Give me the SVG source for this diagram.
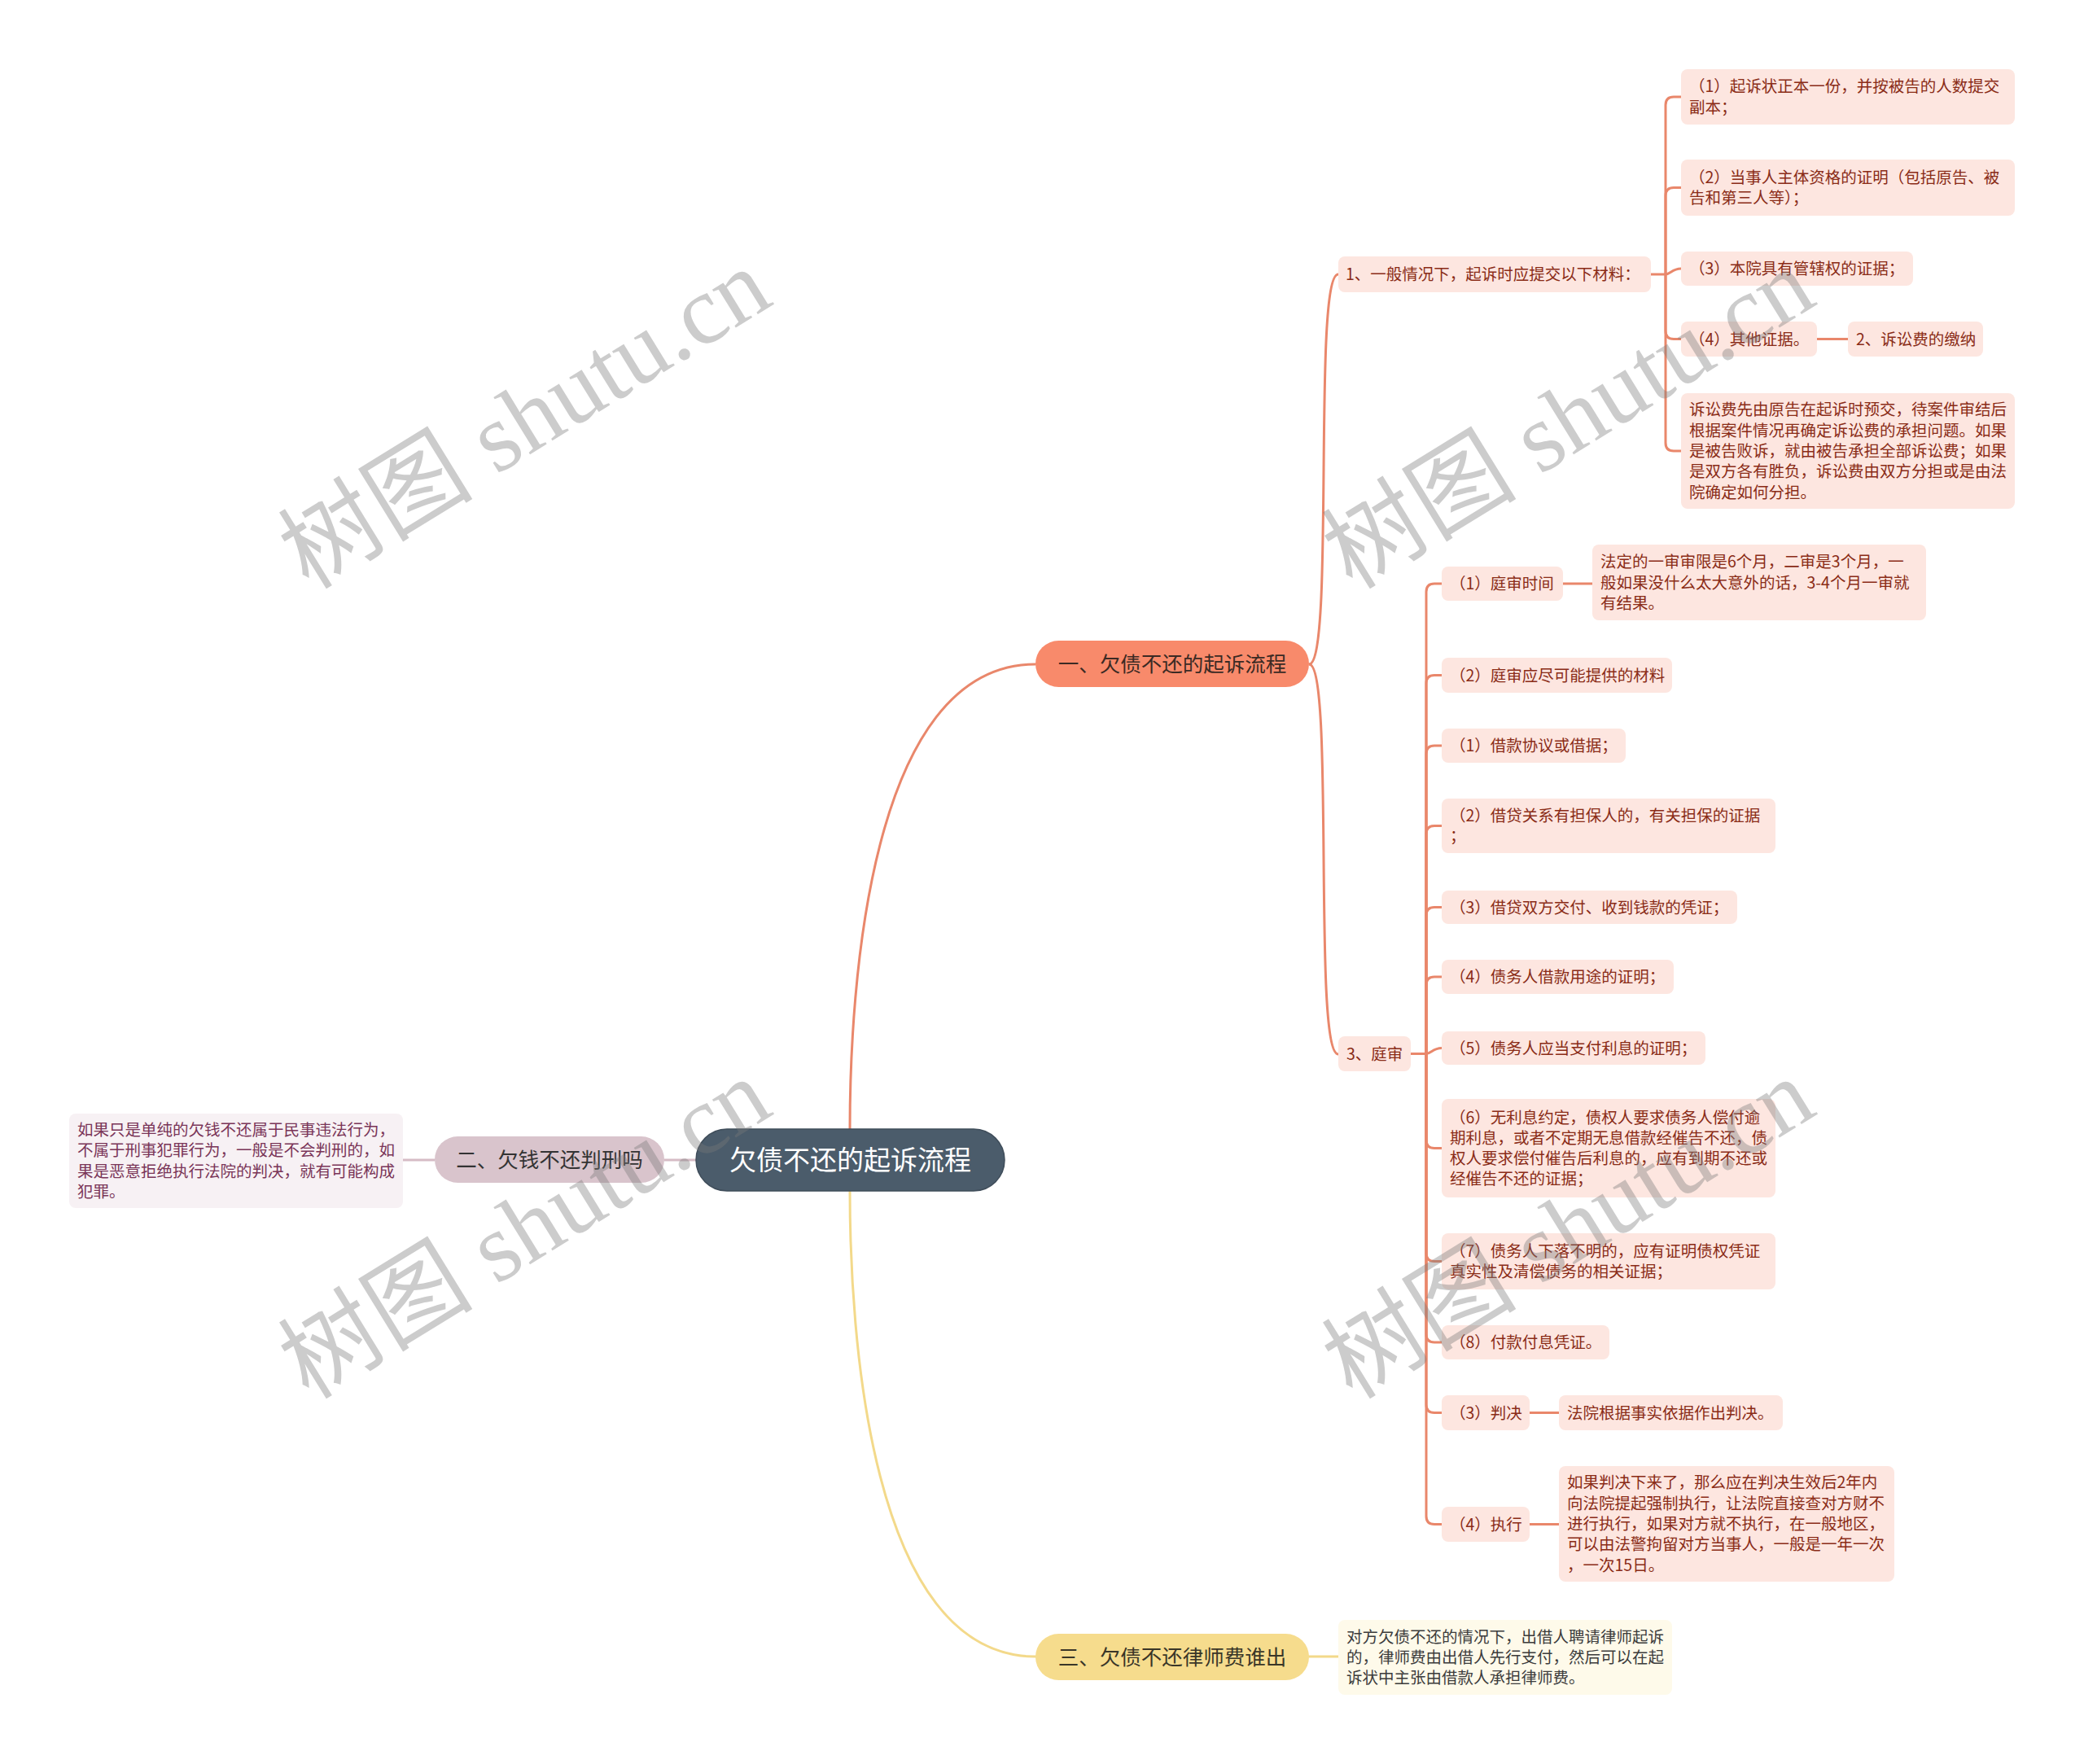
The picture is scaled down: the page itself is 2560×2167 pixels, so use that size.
<svg xmlns="http://www.w3.org/2000/svg" width="2560" height="2167" viewBox="0 0 2560 2167">
<style>
.t{font-family:"Noto Sans CJK SC","Liberation Sans",sans-serif;}
.s{font-size:19.5px;fill:#8a2c17;}
.n{fill:#fde6e0;}
.c{fill:none;stroke:#e9876b;stroke-width:3;}
.l1{font-size:25.5px;text-anchor:middle;}
.wm{font-family:"Liberation Serif","Noto Sans CJK SC",serif;font-size:120px;fill:#7a7a7a;opacity:0.38;text-anchor:middle;}
</style>
<rect width="2560" height="2167" fill="#ffffff"/>
<g id="connectors">
<path d="M1044,1387 C1044,1216 1067,816 1272,816" class="c"/>
<path d="M1044,1463 C1044,1634 1067,2035 1272,2035" fill="none" stroke="#f3d98a" stroke-width="3"/>
<path d="M855,1425 H816 M534,1425 H495" fill="none" stroke="#d6bcc5" stroke-width="3"/>
<path d="M1272,2035 H1272 M1608,2035 H1644" fill="none" stroke="#f3d98a" stroke-width="3"/>
<path d="M1608,816 C1640,816 1612,337 1644,337" class="c"/>
<path d="M1608,816 C1640,816 1612,1295 1644,1295" class="c"/>
<path d="M2028,337 H2046" class="c"/>
<path d="M2046,337 V129 Q2046,119 2056,119 H2065" class="c"/>
<path d="M2046,337 V240.5 Q2046,230.5 2056,230.5 H2065" class="c"/>
<path d="M2046,337 C2052,337 2054,330 2065,330" class="c"/>
<path d="M2046,337 V406.5 Q2046,416.5 2056,416.5 H2065" class="c"/>
<path d="M2046,337 V544 Q2046,554 2056,554 H2065" class="c"/>
<path d="M2232,416.5 H2270" class="c"/>
<path d="M1733,1294.5 H1752" class="c"/>
<path d="M1752,1294.5 V727 Q1752,717 1762,717 H1771" class="c"/>
<path d="M1752,1294.5 V839.5 Q1752,829.5 1762,829.5 H1771" class="c"/>
<path d="M1752,1294.5 V926 Q1752,916 1762,916 H1771" class="c"/>
<path d="M1752,1294.5 V1024.5 Q1752,1014.5 1762,1014.5 H1771" class="c"/>
<path d="M1752,1294.5 V1124.5 Q1752,1114.5 1762,1114.5 H1771" class="c"/>
<path d="M1752,1294.5 V1210 Q1752,1200 1762,1200 H1771" class="c"/>
<path d="M1752,1294.5 C1758,1294.5 1760,1287.5 1771,1287.5" class="c"/>
<path d="M1752,1294.5 V1400.5 Q1752,1410.5 1762,1410.5 H1771" class="c"/>
<path d="M1752,1294.5 V1539.5 Q1752,1549.5 1762,1549.5 H1771" class="c"/>
<path d="M1752,1294.5 V1639 Q1752,1649 1762,1649 H1771" class="c"/>
<path d="M1752,1294.5 V1725.5 Q1752,1735.5 1762,1735.5 H1771" class="c"/>
<path d="M1752,1294.5 V1862.5 Q1752,1872.5 1762,1872.5 H1771" class="c"/>
<path d="M1920,717 H1956 M1879,1735.5 H1915 M1879,1872.5 H1915" class="c"/>
</g>
<g id="root">
<rect x="855" y="1387" width="379" height="76" rx="38" fill="#4b5c6b" stroke="#3f4d5a" stroke-width="1.5"/>
<text class="t" x="1044.5" y="1437" font-size="33" fill="#ffffff" text-anchor="middle">欠债不还的起诉流程</text>
</g>
<g id="b1">
<rect x="1272" y="787" width="336" height="57" rx="28.5" fill="#f88a6b"/>
<text class="t l1" x="1440" y="825" fill="#3b2a24">一、欠债不还的起诉流程</text>
</g>
<g id="b2">
<rect x="534" y="1396" width="282" height="57" rx="28.5" fill="#d9c4cc"/>
<text class="t l1" x="675" y="1434" fill="#333333">二、欠钱不还判刑吗</text>
</g>
<g id="b3">
<rect x="1272" y="2007" width="336" height="57" rx="28.5" fill="#f6dc8d"/>
<text class="t l1" x="1440" y="2045" fill="#3a3628">三、欠债不还律师费谁出</text>
</g>
<g id="leaf-b2">
<rect x="85" y="1368" width="410" height="116" rx="8" fill="#f7f1f4"/>
<text class="t" font-size="19.5" fill="#7a3558"><tspan x="95" y="1395">如果只是单纯的欠钱不还属于民事违法行为，</tspan><tspan x="95" y="1420.3">不属于刑事犯罪行为，一般是不会判刑的，如</tspan><tspan x="95" y="1445.6">果是恶意拒绝执行法院的判决，就有可能构成</tspan><tspan x="95" y="1470.9">犯罪。</tspan></text>
</g>
<g id="leaf-b3">
<rect x="1644" y="1990" width="410" height="92" rx="8" fill="#fefaea"/>
<text class="t" font-size="19.5" fill="#3c3c3c"><tspan x="1654" y="2017.7">对方欠债不还的情况下，出借人聘请律师起诉</tspan><tspan x="1654" y="2043">的，律师费由出借人先行支付，然后可以在起</tspan><tspan x="1654" y="2068.3">诉状中主张由借款人承担律师费。</tspan></text>
</g>
<g id="n1">
<rect class="n" x="1644" y="315" width="384" height="44" rx="8"/>
<text class="t s" x="1653" y="344">1、一般情况下，起诉时应提交以下材料：</text>
</g>
<g id="n1-1">
<rect class="n" x="2065" y="85" width="410" height="68" rx="8"/>
<text class="t s"><tspan x="2075" y="113.4">（1）起诉状正本一份，并按被告的人数提交</tspan><tspan x="2075" y="138.7">副本；</tspan></text>
</g>
<g id="n1-2">
<rect class="n" x="2065" y="196" width="410" height="69" rx="8"/>
<text class="t s"><tspan x="2075" y="224.9">（2）当事人主体资格的证明（包括原告、被</tspan><tspan x="2075" y="250.2">告和第三人等）；</tspan></text>
</g>
<g id="n1-3">
<rect class="n" x="2065" y="309" width="285" height="42" rx="8"/>
<text class="t s" x="2075" y="337">（3）本院具有管辖权的证据；</text>
</g>
<g id="n1-4">
<rect class="n" x="2065" y="395" width="167" height="43" rx="8"/>
<text class="t s" x="2075" y="423.5">（4）其他证据。</text>
</g>
<g id="n1-4-1">
<rect class="n" x="2270" y="395" width="166" height="43" rx="8"/>
<text class="t s" x="2280" y="423.5">2、诉讼费的缴纳</text>
</g>
<g id="n1-5">
<rect class="n" x="2065" y="483" width="410" height="142" rx="8"/>
<text class="t s"><tspan x="2075" y="510.4">诉讼费先由原告在起诉时预交，待案件审结后</tspan><tspan x="2075" y="535.7">根据案件情况再确定诉讼费的承担问题。如果</tspan><tspan x="2075" y="561">是被告败诉，就由被告承担全部诉讼费；如果</tspan><tspan x="2075" y="586.3">是双方各有胜负，诉讼费由双方分担或是由法</tspan><tspan x="2075" y="611.6">院确定如何分担。</tspan></text>
</g>
<g id="n3">
<rect class="n" x="1644" y="1273" width="89" height="43" rx="8"/>
<text class="t s" x="1654" y="1301.5">3、庭审</text>
</g>
<g id="n3-1">
<rect class="n" x="1771" y="696" width="149" height="42" rx="8"/>
<text class="t s" x="1781" y="724">（1）庭审时间</text>
</g>
<g id="n3-1-1">
<rect class="n" x="1956" y="669" width="410" height="93" rx="8"/>
<text class="t s"><tspan x="1966" y="697.2">法定的一审审限是6个月，二审是3个月，一</tspan><tspan x="1966" y="722.5">般如果没什么太大意外的话，3-4个月一审就</tspan><tspan x="1966" y="747.8">有结果。</tspan></text>
</g>
<g id="n3-2">
<rect class="n" x="1771" y="808" width="283" height="43" rx="8"/>
<text class="t s" x="1781" y="836.5">（2）庭审应尽可能提供的材料</text>
</g>
<g id="n3-3">
<rect class="n" x="1771" y="895" width="226" height="42" rx="8"/>
<text class="t s" x="1781" y="923">（1）借款协议或借据；</text>
</g>
<g id="n3-4">
<rect class="n" x="1771" y="981" width="410" height="67" rx="8"/>
<text class="t s"><tspan x="1781" y="1008.9">（2）借贷关系有担保人的，有关担保的证据</tspan><tspan x="1781" y="1034.2">；</tspan></text>
</g>
<g id="n3-5">
<rect class="n" x="1771" y="1094" width="363" height="41" rx="8"/>
<text class="t s" x="1781" y="1121.5">（3）借贷双方交付、收到钱款的凭证；</text>
</g>
<g id="n3-6">
<rect class="n" x="1771" y="1179" width="285" height="42" rx="8"/>
<text class="t s" x="1781" y="1207">（4）债务人借款用途的证明；</text>
</g>
<g id="n3-7">
<rect class="n" x="1771" y="1267" width="324" height="41" rx="8"/>
<text class="t s" x="1781" y="1294.5">（5）债务人应当支付利息的证明；</text>
</g>
<g id="n3-8">
<rect class="n" x="1771" y="1350" width="410" height="121" rx="8"/>
<text class="t s"><tspan x="1781" y="1379.5">（6）无利息约定，债权人要求债务人偿付逾</tspan><tspan x="1781" y="1404.8">期利息，或者不定期无息借款经催告不还，债</tspan><tspan x="1781" y="1430.1">权人要求偿付催告后利息的，应有到期不还或</tspan><tspan x="1781" y="1455.4">经催告不还的证据；</tspan></text>
</g>
<g id="n3-9">
<rect class="n" x="1771" y="1515" width="410" height="69" rx="8"/>
<text class="t s"><tspan x="1781" y="1543.9">（7）债务人下落不明的，应有证明债权凭证</tspan><tspan x="1781" y="1569.2">真实性及清偿债务的相关证据；</tspan></text>
</g>
<g id="n3-10">
<rect class="n" x="1771" y="1628" width="206" height="42" rx="8"/>
<text class="t s" x="1781" y="1656">（8）付款付息凭证。</text>
</g>
<g id="n3-11">
<rect class="n" x="1771" y="1714" width="108" height="43" rx="8"/>
<text class="t s" x="1781" y="1742.5">（3）判决</text>
</g>
<g id="n3-11-1">
<rect class="n" x="1915" y="1714" width="275" height="43" rx="8"/>
<text class="t s" x="1925" y="1742.5">法院根据事实依据作出判决。</text>
</g>
<g id="n3-12">
<rect class="n" x="1771" y="1851" width="108" height="43" rx="8"/>
<text class="t s" x="1781" y="1879.5">（4）执行</text>
</g>
<g id="n3-12-1">
<rect class="n" x="1915" y="1801" width="412" height="142" rx="8"/>
<text class="t s"><tspan x="1925" y="1828.4">如果判决下来了，那么应在判决生效后2年内</tspan><tspan x="1925" y="1853.7">向法院提起强制执行，让法院直接查对方财不</tspan><tspan x="1925" y="1879">进行执行，如果对方就不执行，在一般地区，</tspan><tspan x="1925" y="1904.3">可以由法警拘留对方当事人，一般是一年一次</tspan><tspan x="1925" y="1929.6">，一次15日。</tspan></text>
</g>
<g id="watermarks">
<text class="wm" transform="translate(645,515) rotate(-31.6)" y="40">树图 shutu.cn</text>
<text class="wm" transform="translate(1927,515) rotate(-31.6)" y="40">树图 shutu.cn</text>
<text class="wm" transform="translate(645,1510) rotate(-31.6)" y="40">树图 shutu.cn</text>
<text class="wm" transform="translate(1927,1510) rotate(-31.6)" y="40">树图 shutu.cn</text>
</g>
</svg>
